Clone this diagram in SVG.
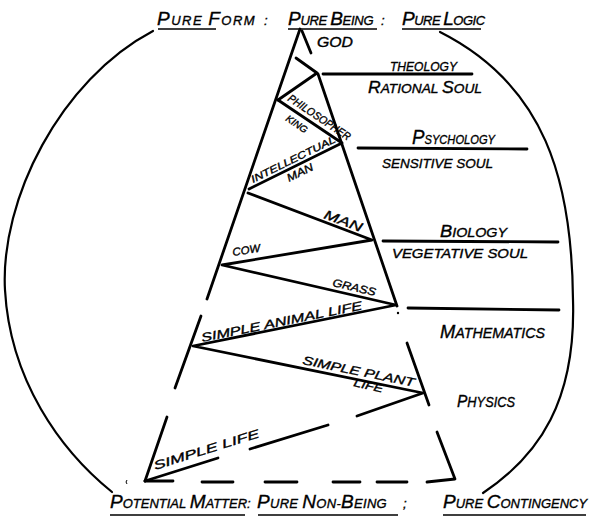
<svg xmlns="http://www.w3.org/2000/svg" width="589" height="520" viewBox="0 0 589 520">
<style>
.ln{stroke:#000;stroke-width:2.8;stroke-linecap:round;stroke-linejoin:round;fill:none}
.arc{stroke:#000;stroke-width:2.2;fill:none;stroke-linecap:round}
.ul{stroke:#000;stroke-width:1.6;fill:none}
text{font-family:"Liberation Sans",Arial,sans-serif;font-style:italic;fill:#000;stroke:#000;stroke-width:0.35}
.h{font-size:13px}
.hb{font-size:19px}
.r{font-size:12.5px}
.rb{font-size:16px}
.l{font-size:11px}
</style>
<rect width="589" height="520" fill="#fff"/>
<g id="frame">
<path class="arc" d="M153,31 C60,80 0,200 5,290 C10,380 60,450 112,492"/>
<path class="arc" d="M440,32 C545,85 572,180 573,300 C576,400 540,455 483,493"/>
</g>
<g id="connectors">
<path class="ln" d="M300,29 L207,299"/>
<path class="ln" d="M201,316 L175,388"/>
<path class="ln" d="M167,417 L145,481"/>
<path class="ln" d="M302,31 L311,53"/>
<path class="ln" d="M296,58 L317,73 L278,100"/>
<path class="ln" d="M318,74 L397,306"/>
<path class="ln" d="M278,100 L342,143 L249,189"/>
<path class="ln" d="M248,193 L372,240 L222,265 L396,305 L193,346 L423,393 L357,416"/>
<path class="ln" d="M328,425 L250,449"/>
<path class="ln" d="M218,458 L145,481"/>
<path class="ln" d="M407,343 L429,405"/>
<path class="ln" d="M437,432 L455,479 L427,482"/>
<path class="ln" d="M145,481 H173 M202,482 H233 M265,482 H297 M333,482 H360 M377,482 H407"/>
<path class="ln" d="M323,74 H472"/>
<path class="ln" d="M358,148 L527,149"/>
<path class="ln" d="M383,241 L558,242"/>
<path class="ln" d="M408,308 L559,310"/>
<circle cx="398" cy="313" r="1.2" fill="#000"/>
<path d="M127,480 q-2,2 0,4" stroke="#000" stroke-width="1" fill="none"/>
</g>
<g id="top">
<text class="h" x="157" y="25" letter-spacing="1.5"><tspan class="hb">P</tspan>URE <tspan class="hb">F</tspan>ORM</text>
<text class="h" x="264" y="25">:</text>
<text class="h" x="288" y="25" letter-spacing="-0.3"><tspan class="hb">P</tspan>URE <tspan class="hb">B</tspan>EING</text>
<text class="h" x="381" y="25">:</text>
<text class="h" x="402" y="25" letter-spacing="-0.5"><tspan class="hb">P</tspan>URE <tspan class="hb">L</tspan>OGIC</text>
<path class="ul" d="M158,29 H216 M288,29 H377 M402,29 H481"/>
</g>
<g id="god"><text x="317" y="47" font-size="14" textLength="36" lengthAdjust="spacingAndGlyphs">GOD</text></g>
<g id="theology">
<text class="r" x="390" y="71" textLength="67" lengthAdjust="spacingAndGlyphs">THEOLOGY</text>
<text class="r" x="368" y="93" textLength="114" lengthAdjust="spacingAndGlyphs"><tspan class="rb">R</tspan>ATIONAL <tspan class="rb">S</tspan>OUL</text>
</g>
<g id="psychology">
<text class="r" x="412" y="144" textLength="83" lengthAdjust="spacingAndGlyphs"><tspan font-size="21">P</tspan>SYCHOLOGY</text>
<text class="r" x="382" y="168" textLength="111" lengthAdjust="spacingAndGlyphs">SENSITIVE SOUL</text>
</g>
<g id="biology">
<text class="r" x="440" y="237" textLength="67" lengthAdjust="spacingAndGlyphs"><tspan class="rb">B</tspan>IOLOGY</text>
<text class="r" x="392" y="258" textLength="136" lengthAdjust="spacingAndGlyphs">VEGETATIVE SOUL</text>
</g>
<g id="mathematics"><text font-size="14" x="440" y="338" textLength="105" lengthAdjust="spacingAndGlyphs"><tspan font-size="18">M</tspan>ATHEMATICS</text></g>
<g id="physics"><text font-size="14" x="457" y="407" textLength="58" lengthAdjust="spacingAndGlyphs"><tspan font-size="17">P</tspan>HYSICS</text></g>
<g id="philosopher-king">
<text class="l" transform="translate(287,100) rotate(34)" textLength="73" lengthAdjust="spacingAndGlyphs">PHILOSOPHER</text>
<text font-size="9.5" transform="translate(285,120) rotate(34)" textLength="24" lengthAdjust="spacingAndGlyphs">KING</text>
</g>
<g id="intellectual-man">
<text font-size="10" transform="translate(253,183) rotate(-26.3)" textLength="93" lengthAdjust="spacingAndGlyphs">INTELLECTUAL</text>
<text font-size="11" transform="translate(289,182) rotate(-26.3)" textLength="28" lengthAdjust="spacingAndGlyphs">MAN</text>
</g>
<g id="man"><text font-size="13" transform="translate(323,218) rotate(20.4)" textLength="40" lengthAdjust="spacingAndGlyphs">MAN</text></g>
<g id="cow"><text class="l" transform="translate(233,256) rotate(-9)" textLength="28" lengthAdjust="spacingAndGlyphs">COW</text></g>
<g id="grass"><text class="l" transform="translate(332,286) rotate(13)" textLength="44" lengthAdjust="spacingAndGlyphs">GRASS</text></g>
<g id="simple-animal-life"><text font-size="12" transform="translate(202,342) rotate(-11.5)" textLength="164" lengthAdjust="spacingAndGlyphs">SIMPLE ANIMAL LIFE</text></g>
<g id="simple-plant-life">
<text font-size="12" transform="translate(302,364) rotate(11.5)" textLength="114" lengthAdjust="spacingAndGlyphs">SIMPLE PLANT</text>
<text class="l" transform="translate(353,386) rotate(13)" textLength="30" lengthAdjust="spacingAndGlyphs">LIFE</text>
</g>
<g id="simple-life"><text font-size="12" transform="translate(155,470) rotate(-17.4)" textLength="110" lengthAdjust="spacingAndGlyphs">SIMPLE LIFE</text></g>
<g id="bottom">
<text class="h" x="110" y="508"><tspan class="hb">P</tspan>OTENTIAL <tspan class="hb">M</tspan>ATTER:</text>
<text class="h" x="257" y="508" letter-spacing="0.3"><tspan class="hb">P</tspan>URE <tspan class="hb">N</tspan>ON-<tspan class="hb">B</tspan>EING</text>
<text class="h" x="403" y="508">;</text>
<text class="h" x="443" y="508"><tspan class="hb">P</tspan>URE <tspan class="hb">C</tspan>ONTINGENCY</text>
<path class="ul" d="M110,515 H245 M258,515 H398 M443,515 H586"/>
</g>
</svg>
